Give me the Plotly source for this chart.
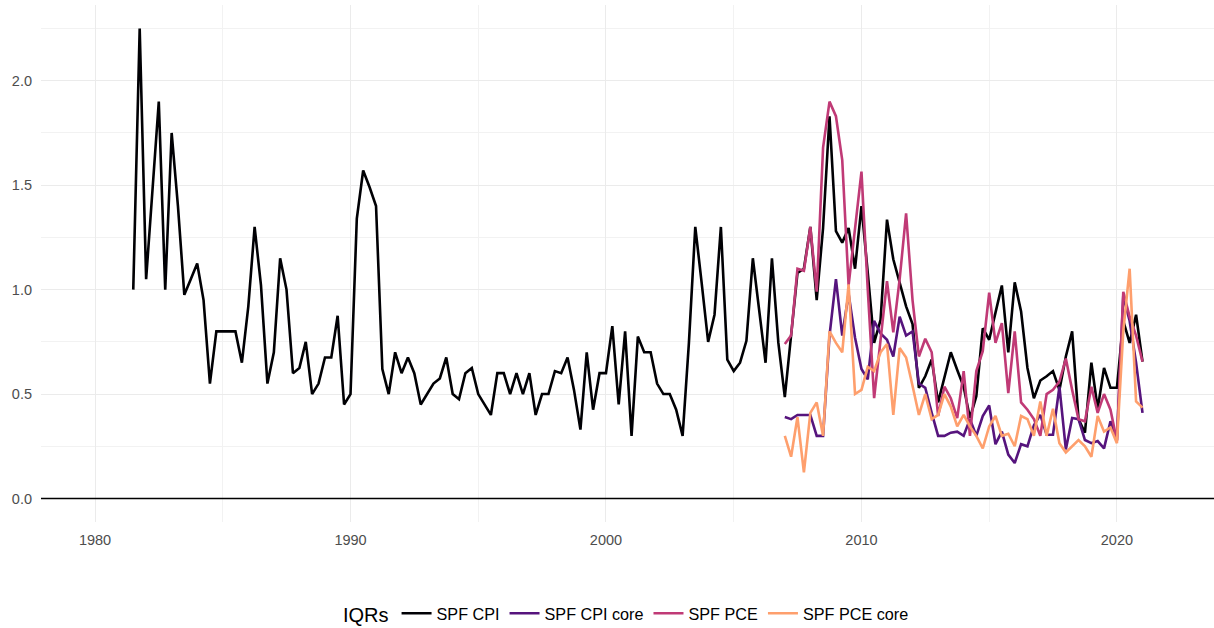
import pandas as pd
import plotly.graph_objects as go

# Quarterly periods
cpi_start = "1981Q3"
core_start = "2007Q1"

spf_cpi = [
    1.00, 2.25, 1.05, 1.45, 1.90, 1.00, 1.75, 1.40, 0.975, 1.05,
    1.125, 0.95, 0.55, 0.80, 0.80, 0.80, 0.80, 0.65, 0.92, 1.30,
    1.02, 0.55, 0.70, 1.15, 1.00, 0.60, 0.625, 0.75, 0.50, 0.55,
    0.675, 0.675, 0.875, 0.45, 0.50, 1.34, 1.57, 1.49, 1.40, 0.62,
    0.50, 0.70, 0.60, 0.675, 0.60, 0.45, 0.50, 0.55, 0.575, 0.675,
    0.50, 0.475, 0.60, 0.625, 0.50, 0.45, 0.40, 0.60, 0.60, 0.50,
    0.60, 0.50, 0.60, 0.40, 0.50, 0.50, 0.61, 0.60, 0.675, 0.52,
    0.33, 0.70, 0.425, 0.60, 0.60, 0.825, 0.45, 0.80, 0.30, 0.775,
    0.70, 0.70, 0.55, 0.50, 0.50, 0.425, 0.30, 0.745, 1.30, 1.03,
    0.75, 0.88, 1.30, 0.665, 0.61, 0.65, 0.755, 1.15, 0.89, 0.65,
    1.15, 0.745, 0.485, 0.78, 1.08, 1.10, 1.30, 0.95, 1.295, 1.83,
    1.28, 1.225, 1.295, 1.10, 1.40, 1.08, 0.745, 0.855, 1.335, 1.145,
    1.03, 0.92, 0.835, 0.53, 0.585, 0.665, 0.46, 0.58, 0.70, 0.615,
    0.535, 0.385, 0.49, 0.815, 0.76, 0.89, 1.02, 0.70, 1.035, 0.895,
    0.625, 0.48, 0.565, 0.585, 0.61, 0.52, 0.68, 0.80, 0.38, 0.315,
    0.65, 0.43, 0.625, 0.53, 0.53, 0.85, 0.745, 0.88, 0.655,
]

spf_cpi_core = [
    0.39, 0.38, 0.40, 0.40, 0.40, 0.30, 0.30, 0.78, 1.05, 0.78,
    0.98, 0.77, 0.62, 0.57, 0.85, 0.79, 0.76, 0.68, 0.87, 0.78,
    0.80, 0.55, 0.53, 0.41, 0.30, 0.30, 0.315, 0.32, 0.30, 0.38,
    0.30, 0.395, 0.445, 0.26, 0.32, 0.21, 0.17, 0.26, 0.25, 0.35,
    0.40, 0.305, 0.305, 0.535, 0.235, 0.385, 0.38, 0.28, 0.265, 0.275,
    0.24, 0.37, 0.28, 0.97, 0.85, 0.65, 0.41,
]

spf_pce = [
    0.74, 0.78, 1.10, 1.09, 1.30, 0.99, 1.68, 1.90, 1.83, 1.62,
    1.02, 1.30, 1.565, 1.00, 0.48, 0.76, 1.04, 0.795, 1.05, 1.365,
    0.95, 0.68, 0.765, 0.70, 0.395, 0.535, 0.48, 0.385, 0.61, 0.30,
    0.61, 0.705, 0.985, 0.745, 0.84, 0.505, 0.80, 0.46, 0.425, 0.38,
    0.30, 0.50, 0.52, 0.56, 0.67, 0.52, 0.38, 0.37, 0.535, 0.41,
    0.50, 0.425, 0.275, 0.99, 0.87, 0.78, 0.655,
]

spf_pce_core = [
    0.30, 0.20, 0.39, 0.125, 0.41, 0.46, 0.30, 0.80, 0.745, 0.70,
    1.025, 0.50, 0.52, 0.63, 0.61, 0.70, 0.74, 0.40, 0.72, 0.675,
    0.54, 0.40, 0.50, 0.38, 0.40, 0.50, 0.44, 0.345, 0.40, 0.345,
    0.30, 0.24, 0.345, 0.395, 0.30, 0.31, 0.25, 0.395, 0.38, 0.30,
    0.465, 0.30, 0.43, 0.265, 0.22, 0.25, 0.28, 0.25, 0.20, 0.395,
    0.32, 0.34, 0.265, 0.80, 1.10, 0.465, 0.435,
]

series_names = ["SPF CPI", "SPF CPI core", "SPF PCE", "SPF PCE core"]
series_colors = ["#000004", "#56147D", "#C03A76", "#FE9F6D"]


def quarter_dates(start, n):
    return pd.period_range(start=start, periods=n, freq="Q").to_timestamp()


series = [
    (spf_cpi, cpi_start),
    (spf_cpi_core, core_start),
    (spf_pce, core_start),
    (spf_pce_core, core_start),
]

fig = go.Figure()
for (vals, start), name, color in zip(series, series_names, series_colors):
    fig.add_trace(go.Scatter(
        x=quarter_dates(start, len(vals)), y=vals, mode="lines", name=name,
        line=dict(color=color, width=2.6),
    ))

fig.add_hline(y=0, line=dict(color="black", width=1.4), layer="above")

grid = "#EBEBEB"
FONT = "Liberation Sans, Arial, sans-serif"
tickfont = dict(family=FONT, size=14.5, color="#4D4D4D")

fig.update_layout(
    width=1214, height=628,
    paper_bgcolor="white", plot_bgcolor="white",
    margin=dict(l=41, r=0, t=5, b=105.5),
    showlegend=True,
    legend=dict(
        orientation="h", x=0.5, xanchor="center",
        yref="container", y=0.022, yanchor="middle",
        title=dict(text="IQRs", font=dict(family=FONT, size=20, color="black"), side="left"),
        font=dict(family=FONT, size=16.2, color="black"),
        itemwidth=30, traceorder="normal",
    ),
    xaxis=dict(
        type="date",
        range=["1977-11-20", "2023-10-20"],
        tick0="1980-01-01", dtick="M120", tickformat="%Y",
        showgrid=True, gridcolor=grid, gridwidth=1.1,
        minor=dict(dtick="M60", showgrid=True, gridcolor="#F2F2F2", gridwidth=0.8),
        zeroline=False, showline=False, ticks="", tickfont=tickfont, ticklabelstandoff=7,
    ),
    yaxis=dict(
        range=[-0.1125, 2.3625],
        tick0=0, dtick=0.5, tickformat=".1f",
        showgrid=True, gridcolor=grid, gridwidth=1.1,
        minor=dict(dtick=0.25, showgrid=True, gridcolor="#F2F2F2", gridwidth=0.8),
        zeroline=False, showline=False, ticks="", tickfont=tickfont, ticklabelstandoff=8,
    ),
)

fig.write_html("out.html", config={"displayModeBar": False},
               post_script="document.body.style.margin='0';")
